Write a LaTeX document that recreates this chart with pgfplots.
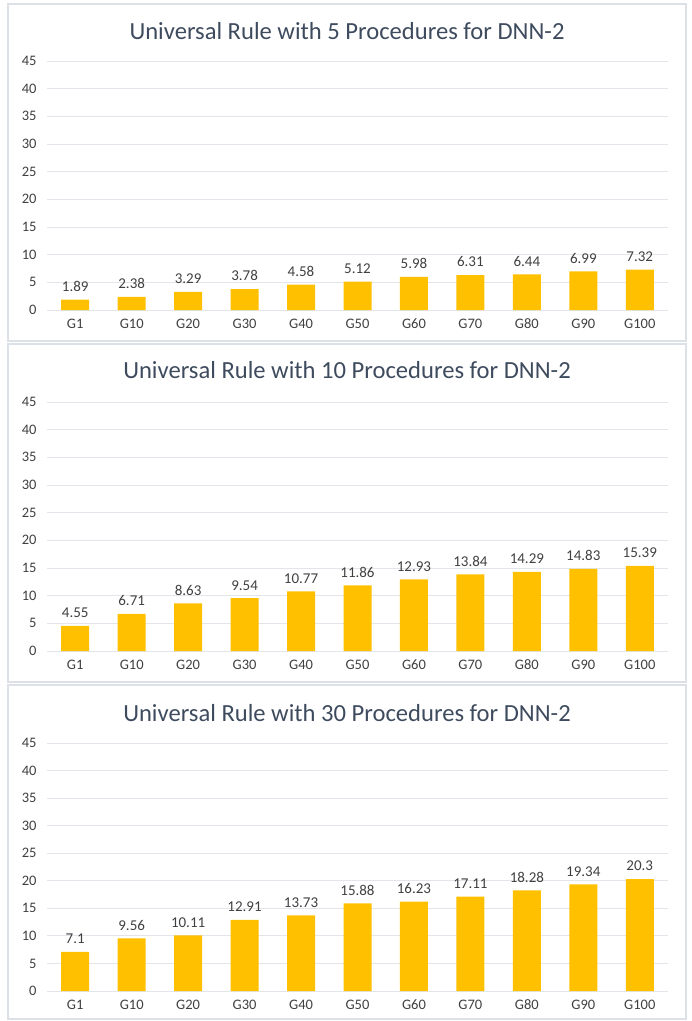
\documentclass[border=0pt]{standalone}
\usepackage{pgfplots}
\pgfplotsset{compat=1.18}
\usepackage{fontspec}
\setmainfont{Carlito}
\definecolor{barc}{HTML}{FFC000}
\definecolor{gridc}{HTML}{E2E5EA}
\definecolor{tickc}{HTML}{404040}
\definecolor{ttlc}{HTML}{3E4B5E}
\definecolor{framec}{HTML}{DCE1E7}
\pgfplotsset{
  /pgf/number format/assume math mode=true,
  panel/.style={
    scale only axis, width=621pt, anchor=south west,
    xmin=-0.5, xmax=10.5, ymin=0, ymax=45,
    ytick={0,5,...,45}, xtick=data,
    xticklabels={G1,G10,G20,G30,G40,G50,G60,G70,G80,G90,G100},
    ymajorgrids, xmajorgrids=false, major grid style={draw=gridc, line width=0.9pt},
    axis line style={draw=none}, major tick length=0pt,
    yticklabel style={font=\fontsize{14.5}{16}\selectfont, text=tickc, xshift=-7pt},
    xticklabel style={font=\fontsize{14.5}{16}\selectfont, text=tickc, yshift=-5pt, text height=10pt, text depth=0pt},
    ybar, bar width=28pt,
    nodes near coords={\pgfmathprintnumber[fixed,precision=2]{\pgfplotspointmeta}},
    nodes near coords style={font=\fontsize{15}{17}\selectfont, text=tickc, yshift=4.5pt},
    clip=false,
  }
}
\begin{document}
\begin{tikzpicture}
\useasboundingbox (0pt,0pt) rectangle (692pt,-1021pt);
\draw[framec, line width=1.2pt] (8pt,-4pt) rectangle (686pt,-341pt);
\draw[framec, line width=1.2pt] (8pt,-344pt) rectangle (686pt,-682pt);
\draw[framec, line width=1.2pt] (8pt,-685pt) rectangle (686pt,-1019pt);
\node[text=ttlc, font=\fontsize{24.6}{28}\selectfont] at (347pt,-31pt) {Universal Rule with 5 Procedures for DNN-2};
\node[text=ttlc, font=\fontsize{24.6}{28}\selectfont] at (347pt,-370pt) {Universal Rule with 10 Procedures for DNN-2};
\node[text=ttlc, font=\fontsize{24.6}{28}\selectfont] at (347pt,-713pt) {Universal Rule with 30 Procedures for DNN-2};
\begin{axis}[panel, height=249pt, at={(47pt,-310pt)}]
\addplot[fill=barc, draw=none] coordinates {(0,1.89) (1,2.38) (2,3.29) (3,3.78) (4,4.58) (5,5.12) (6,5.98) (7,6.31) (8,6.44) (9,6.99) (10,7.32)};
\end{axis}
\begin{axis}[panel, height=249pt, at={(47pt,-651pt)}]
\addplot[fill=barc, draw=none] coordinates {(0,4.55) (1,6.71) (2,8.63) (3,9.54) (4,10.77) (5,11.86) (6,12.93) (7,13.84) (8,14.29) (9,14.83) (10,15.39)};
\end{axis}
\begin{axis}[panel, height=248pt, at={(47pt,-991pt)}]
\addplot[fill=barc, draw=none] coordinates {(0,7.1) (1,9.56) (2,10.11) (3,12.91) (4,13.73) (5,15.88) (6,16.23) (7,17.11) (8,18.28) (9,19.34) (10,20.3)};
\end{axis}
\end{tikzpicture}
\end{document}
